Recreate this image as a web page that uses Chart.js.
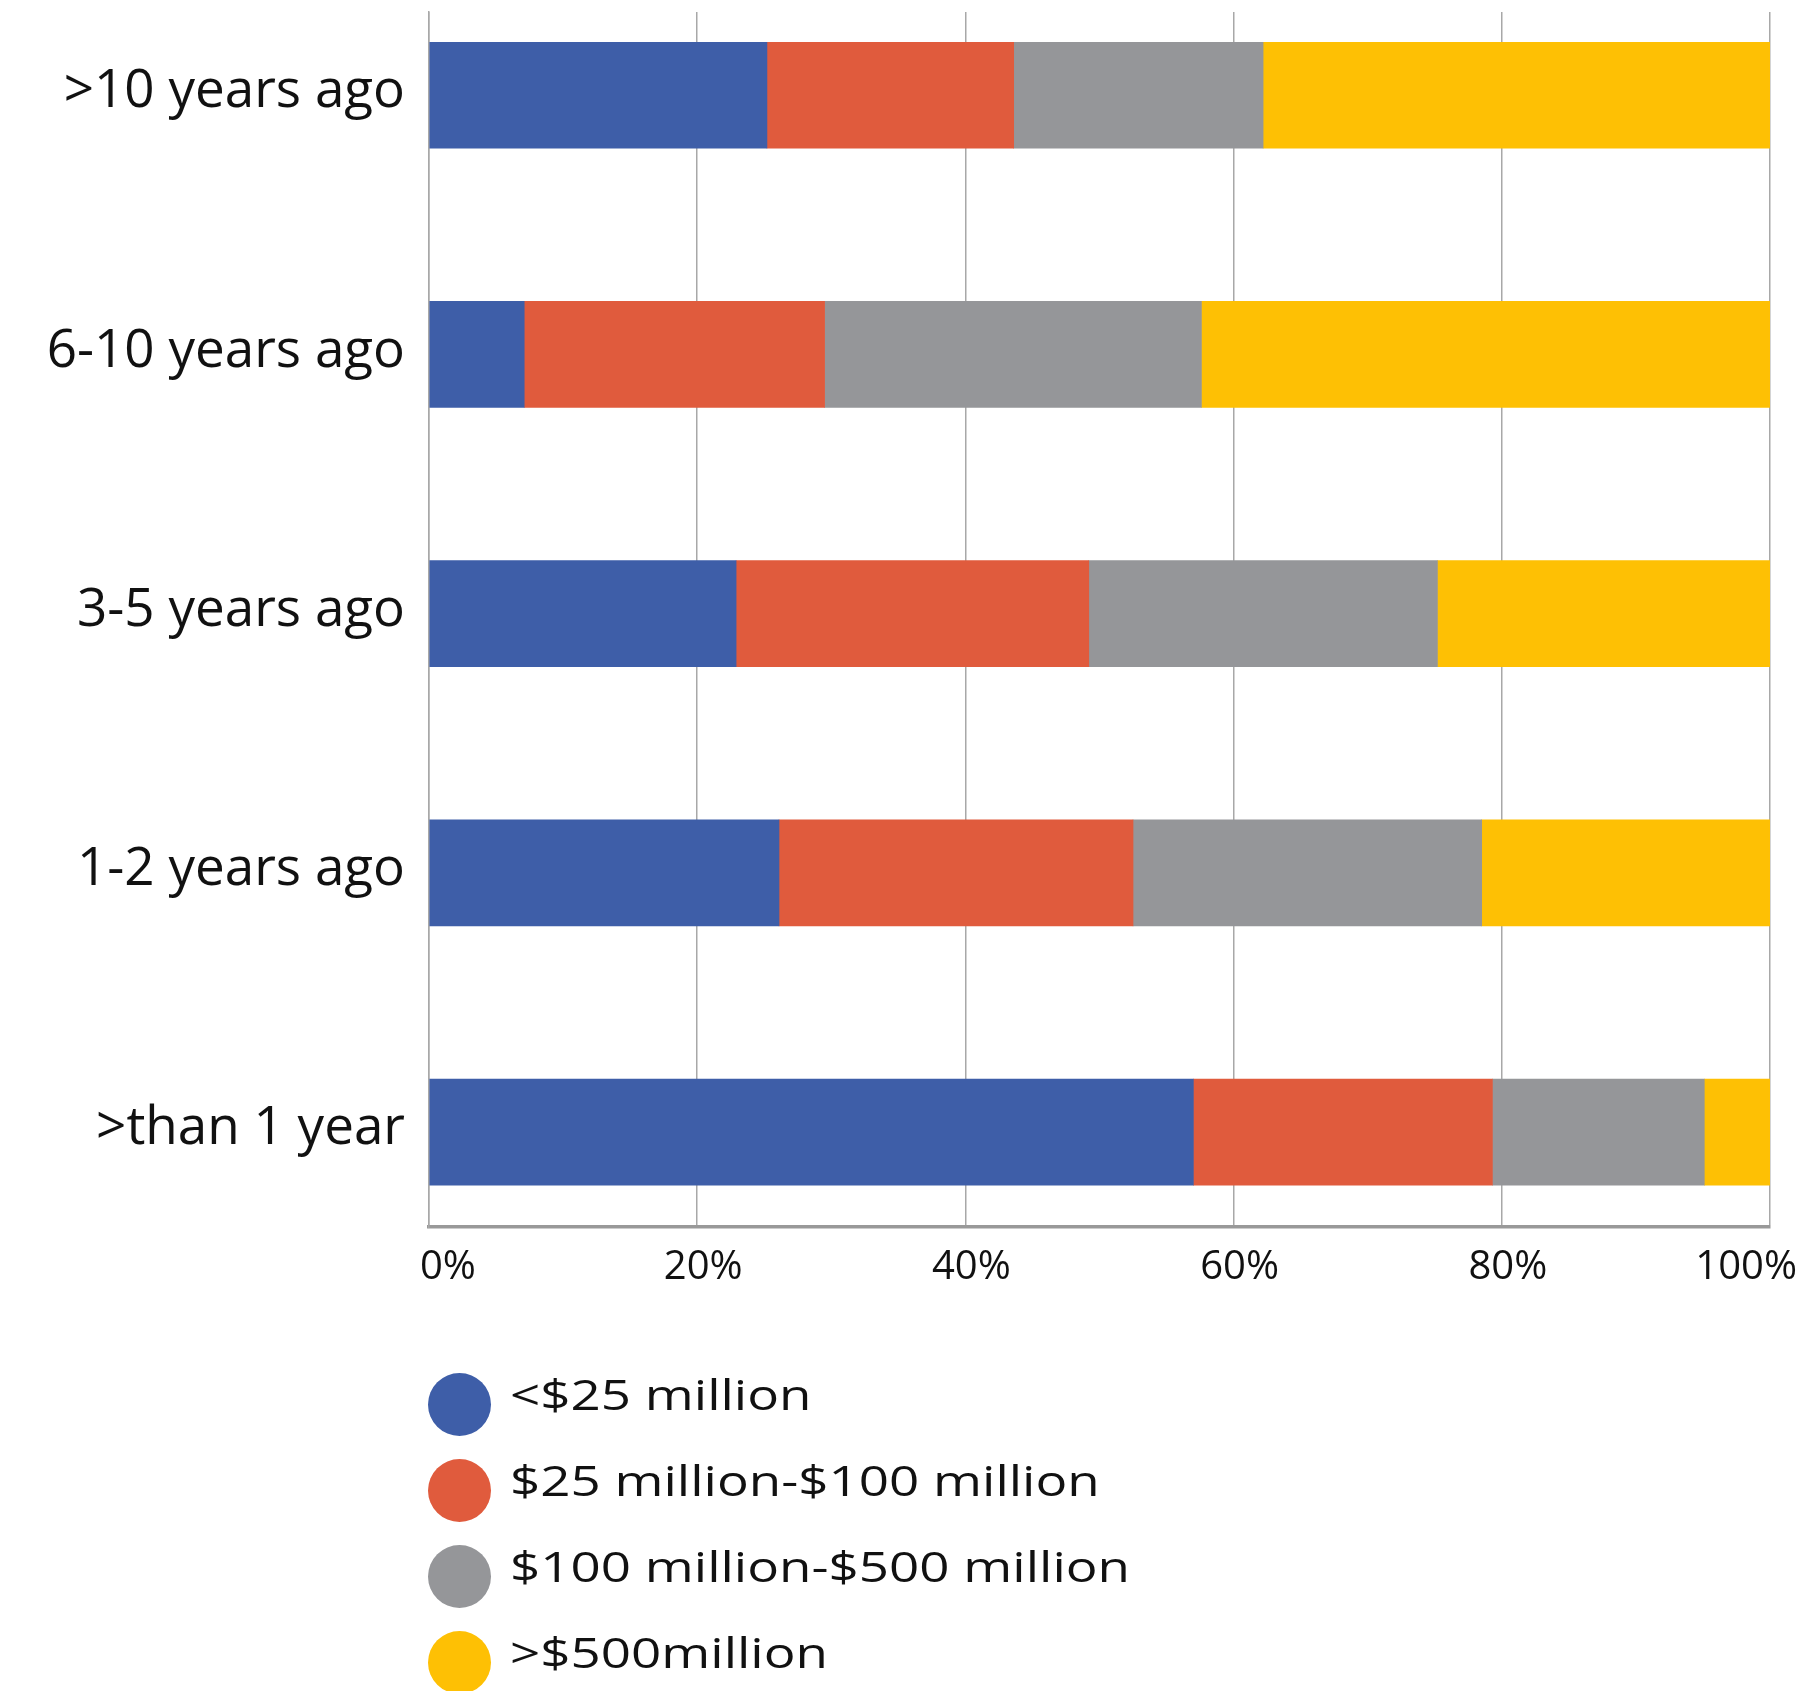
<!DOCTYPE html>
<html>
<head>
<meta charset="utf-8">
<script src="https://cdn.jsdelivr.net/npm/chart.js@4/dist/chart.umd.min.js"></script>
<style>
  html, body { margin: 0; padding: 0; background: #fff; width: 1804px; height: 1691px; overflow: hidden; }
  #wrap { position: relative; width: 1804px; height: 1691px; }
  canvas { position: absolute; left: 0; top: 0; }
  #legend { position: absolute; left: 428px; top: 1373px; font-family: "Open Sans", sans-serif; }
  .row { display: flex; align-items: center; height: 63px; margin-bottom: 23px; }
  .dot { width: 63px; height: 63px; border-radius: 50%; flex: none; }
  .lab { margin-left: 19px; font-size: 42px; color: #111; transform: scaleX(1.26); transform-origin: left center; white-space: nowrap; line-height: 63px; margin-top: -22px; }
</style>
</head>
<body>
<div id="wrap">
  <canvas id="c" width="1804" height="1691"></canvas>
  <div id="legend"></div>
</div>
<script>
const categories = ['>10 years ago', '6-10 years ago', '3-5 years ago', '1-2 years ago', '>than 1 year'];
const seriesNames = ['<$25 million', '$25 million-$100 million', '$100 million-$500 million', '>$500million'];
const seriesColors = ['#3E5EA8', '#E05B3D', '#959699', '#FEC004'];
const under25 = [25.2, 7.1, 22.9, 26.1, 57.0];
const from25to100 = [18.4, 22.4, 26.3, 26.4, 22.3];
const from100to500 = [18.6, 28.1, 26.0, 26.0, 15.8];
const over500 = [37.8, 42.4, 24.8, 21.5, 4.9];
const xTickValues = [0, 20, 40, 60, 80, 100];
const xTickLabels = ['0%', '20%', '40%', '60%', '80%', '100%'];

const seriesValues = [under25, from25to100, from100to500, over500];
const yMin = -0.321, yMax = 4.366;

const datasets = seriesValues.map((vals, s) => ({
  label: seriesNames[s],
  backgroundColor: seriesColors[s],
  borderWidth: 0,
  barThickness: 106,
  data: vals.map((v, i) => ({ x: v, y: i }))
}));

const tickLabelPlugin = {
  id: 'tickLabelPlugin',
  afterDraw(chart) {
    const xs = chart.scales.x;
    const ctx = chart.ctx;
    ctx.save();
    ctx.font = '40px "Open Sans"';
    ctx.fillStyle = '#111';
    ctx.textBaseline = 'middle';
    const y = 1268;
    xs.ticks.forEach((t, i) => {
      const px = xs.getPixelForValue(t.value);
      const label = xTickLabels[xTickValues.indexOf(t.value)];
      if (i === 0) { ctx.textAlign = 'left'; ctx.fillText(label, px - 9, y); }
      else if (i === xs.ticks.length - 1) { ctx.textAlign = 'right'; ctx.fillText(label, px + 27, y); }
      else { ctx.textAlign = 'center'; ctx.fillText(label, px + 6, y); }
    });
    ctx.restore();
  }
};

new Chart(document.getElementById('c'), {
  type: 'bar',
  data: { datasets },
  options: {
    indexAxis: 'y',
    responsive: false,
    animation: false,
    devicePixelRatio: 1,
    layout: { padding: { top: 12, right: 34, left: 0, bottom: 0 } },
    plugins: { legend: { display: false }, tooltip: { enabled: false } },
    scales: {
      x: {
        type: 'linear',
        stacked: true,
        min: 0,
        max: 100,
        afterBuildTicks: s => { s.ticks = xTickValues.map(v => ({ value: v })); },
        afterFit: s => { s.height = 464; s.paddingLeft = 0; s.paddingRight = 0; },
        ticks: { display: false, callback: v => xTickLabels[xTickValues.indexOf(v)] },
        grid: { color: '#a8a8a8', lineWidth: 1.5, drawTicks: false },
        border: { color: '#999999', width: 3.5 }
      },
      y: {
        type: 'linear',
        stacked: true,
        reverse: true,
        offset: false,
        min: yMin,
        max: yMax,
        afterDataLimits: s => { s.min = yMin; s.max = yMax; },
        afterBuildTicks: s => { s.ticks = categories.map((c, i) => ({ value: i })); s.min = yMin; s.max = yMax; },
        afterFit: s => { s.width = 429; s.paddingTop = 0; s.paddingBottom = 0; },
        ticks: {
          callback: (v, i) => categories[i],
          font: { family: '"Open Sans"', size: 53 },
          color: '#111',
          padding: 24,
          labelOffset: -3
        },
        grid: { display: false, drawTicks: false },
        border: { display: true, color: '#a8a8a8', width: 1.5 }
      }
    }
  },
  plugins: [tickLabelPlugin]
});

const legend = document.getElementById('legend');
seriesNames.forEach((name, s) => {
  const row = document.createElement('div');
  row.className = 'row';
  const dot = document.createElement('div');
  dot.className = 'dot';
  dot.style.background = seriesColors[s];
  const lab = document.createElement('div');
  lab.className = 'lab';
  lab.textContent = name;
  row.appendChild(dot);
  row.appendChild(lab);
  legend.appendChild(row);
});
</script>
</body>
</html>
